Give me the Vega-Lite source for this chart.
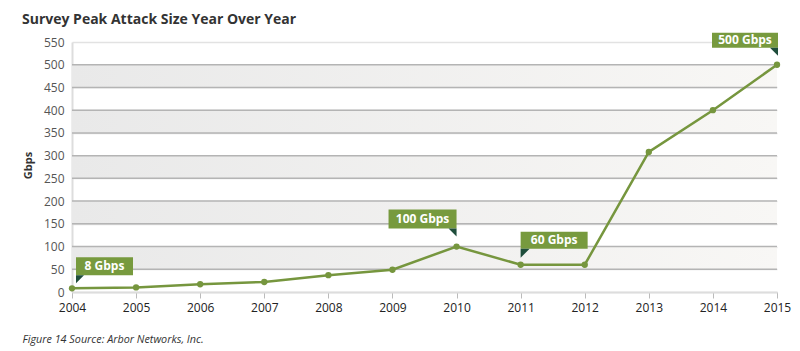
{
  "$schema": "https://vega.github.io/schema/vega-lite/v6.json",
  "autosize": "none",
  "width": 705,
  "height": 250,
  "padding": {"left": 72, "top": 42, "right": 23, "bottom": 59},
  "background": "white",
  "config": {"font": "Open Sans", "view": {"stroke": null}},
  "title": {
    "text": "Survey Peak Attack Size Year Over Year",
    "anchor": "start",
    "frame": "group",
    "dx": -50,
    "font": "Open Sans",
    "fontSize": 14,
    "fontWeight": "bold",
    "color": "#333333",
    "offset": 6
  },
  "datasets": {
    "main": [
      {"year": 2004, "gbps": 8, "label": "8 Gbps"},
      {"year": 2005, "gbps": 10},
      {"year": 2006, "gbps": 17},
      {"year": 2007, "gbps": 22},
      {"year": 2008, "gbps": 37},
      {"year": 2009, "gbps": 49},
      {"year": 2010, "gbps": 100, "label": "100 Gbps"},
      {"year": 2011, "gbps": 60, "label": "60 Gbps"},
      {"year": 2012, "gbps": 60},
      {"year": 2013, "gbps": 308},
      {"year": 2014, "gbps": 400},
      {"year": 2015, "gbps": 500, "label": "500 Gbps"}
    ],
    "bands": [
      {"lo": 50, "hi": 100},
      {"lo": 150, "hi": 200},
      {"lo": 250, "hi": 300},
      {"lo": 350, "hi": 400},
      {"lo": 450, "hi": 500}
    ]
  },
  "data": {"name": "main"},
  "encoding": {
    "x": {"field": "year", "type": "quantitative",
      "scale": {"domain": [2004, 2015], "nice": false, "zero": false},
      "axis": {
        "values": [2004, 2005, 2006, 2007, 2008, 2009, 2010, 2011, 2012, 2013, 2014, 2015],
        "format": "d",
        "labelFlush": false,
        "labelOverlap": false,
        "labelFont": "Open Sans",
        "labelFontSize": 12,
        "labelColor": "#222222",
        "labelPadding": 4,
        "tickColor": "#bbbbbb",
        "tickSize": 6,
        "tickWidth": 1,
        "domainColor": "#dddddd",
        "domainWidth": 2,
        "grid": false,
        "title": "Figure 14 Source: Arbor Networks, Inc.",
        "titleFont": "Open Sans",
        "titleFontSize": 10.8,
        "titleFontWeight": "normal",
        "titleFontStyle": "italic",
        "titleColor": "#333333",
        "titleAnchor": "start",
        "titleAlign": "left",
        "titleBaseline": "alphabetic",
        "titleX": -50,
        "titleY": 50
      }
    },
    "y": {"field": "gbps", "type": "quantitative",
      "scale": {"domain": [0, 550], "nice": false},
      "axis": {
        "values": [0, 50, 100, 150, 200, 250, 300, 350, 400, 450, 500, 550],
        "labelOverlap": false,
        "title": "Gbps",
        "titleFont": "Open Sans",
        "titleFontSize": 11,
        "titleFontWeight": "bold",
        "titleColor": "#333333",
        "titleAngle": -90,
        "titleX": -44,
        "titleY": 123,
        "titleAlign": "center",
        "titleBaseline": "middle",
        "labelFont": "Open Sans",
        "labelFontSize": 12,
        "labelColor": "#555555",
        "labelPadding": 8,
        "ticks": false,
        "domain": true,
        "domainColor": "#dddddd",
        "domainWidth": 2,
        "grid": true,
        "gridWidth": 1.5,
        "gridColor": "#e2e2e2"
      }
    }
  },
  "layer": [
    {
      "data": {"name": "bands"},
      "mark": {
        "type": "rect",
        "fill": {"gradient": "linear", "x1": 0, "x2": 1, "y1": 0, "y2": 0,
          "stops": [{"offset": 0, "color": "#e9e9e9"}, {"offset": 1, "color": "#f8f7f5"}]}
      },
      "encoding": {
        "x": null,
        "y": {"field": "lo", "type": "quantitative",
          "scale": {"domain": [0, 550], "nice": false},
          "axis": {
            "values": [0, 50, 100, 150, 200, 250, 300, 350, 400, 450, 500, 550],
            "labelOverlap": false,
            "title": "Gbps",
            "titleFont": "Open Sans",
            "titleFontSize": 11,
            "titleFontWeight": "bold",
            "titleColor": "#333333",
            "titleAngle": -90,
            "titleX": -44,
            "titleY": 123,
            "titleAlign": "center",
            "titleBaseline": "middle",
            "labelFont": "Open Sans",
            "labelFontSize": 12,
            "labelColor": "#555555",
            "labelPadding": 8,
            "ticks": false,
            "domain": true,
            "domainColor": "#dddddd",
            "domainWidth": 2,
            "grid": true,
            "gridWidth": 1.5,
            "gridColor": "#e2e2e2"
          }
        },
        "y2": {"field": "hi"}
      }
    },
    {
      "data": {"name": "bands"},
      "mark": {"type": "rule", "color": "#b4b4b4", "strokeWidth": 1.5},
      "encoding": {
        "x": null,
        "y": {"field": "lo", "type": "quantitative",
          "scale": {"domain": [0, 550], "nice": false},
          "axis": {
            "values": [0, 50, 100, 150, 200, 250, 300, 350, 400, 450, 500, 550],
            "labelOverlap": false,
            "title": "Gbps",
            "titleFont": "Open Sans",
            "titleFontSize": 11,
            "titleFontWeight": "bold",
            "titleColor": "#333333",
            "titleAngle": -90,
            "titleX": -44,
            "titleY": 123,
            "titleAlign": "center",
            "titleBaseline": "middle",
            "labelFont": "Open Sans",
            "labelFontSize": 12,
            "labelColor": "#555555",
            "labelPadding": 8,
            "ticks": false,
            "domain": true,
            "domainColor": "#dddddd",
            "domainWidth": 2,
            "grid": true,
            "gridWidth": 1.5,
            "gridColor": "#e2e2e2"
          }
        }
      }
    },
    {
      "data": {"name": "bands"},
      "mark": {"type": "rule", "color": "#b4b4b4", "strokeWidth": 1.5},
      "encoding": {
        "x": null,
        "y": {"field": "hi", "type": "quantitative",
          "scale": {"domain": [0, 550], "nice": false},
          "axis": {
            "values": [0, 50, 100, 150, 200, 250, 300, 350, 400, 450, 500, 550],
            "labelOverlap": false,
            "title": "Gbps",
            "titleFont": "Open Sans",
            "titleFontSize": 11,
            "titleFontWeight": "bold",
            "titleColor": "#333333",
            "titleAngle": -90,
            "titleX": -44,
            "titleY": 123,
            "titleAlign": "center",
            "titleBaseline": "middle",
            "labelFont": "Open Sans",
            "labelFontSize": 12,
            "labelColor": "#555555",
            "labelPadding": 8,
            "ticks": false,
            "domain": true,
            "domainColor": "#dddddd",
            "domainWidth": 2,
            "grid": true,
            "gridWidth": 1.5,
            "gridColor": "#e2e2e2"
          }
        }
      }
    },
    {
      "mark": {"type": "line", "color": "#76963e", "strokeWidth": 2.5}
    },
    {
      "mark": {"type": "circle", "color": "#76963e", "size": 40, "opacity": 1}
    },
    {
      "transform": [{"filter": "datum.year == 2004"}],
      "mark": {"type": "point", "shape": "M4,-31H61V-13H4Z", "size": 4, "filled": true, "color": "#779a3e", "opacity": 1, "strokeWidth": 0}
    },
    {
      "transform": [{"filter": "datum.year == 2004"}],
      "mark": {"type": "point", "shape": "M4,-13H12L4,-5Z", "size": 4, "filled": true, "color": "#1e4d3b", "opacity": 1, "strokeWidth": 0}
    },
    {
      "transform": [{"filter": "datum.year == 2004"}],
      "mark": {"type": "text", "dx": 32.5, "dy": -22, "align": "center", "baseline": "middle", "font": "Open Sans", "fontSize": 12, "fontWeight": "bold", "color": "white"},
      "encoding": {"text": {"field": "label"}}
    },
    {
      "transform": [{"filter": "datum.year == 2011"}],
      "mark": {"type": "point", "shape": "M0,-33H67V-16H0Z", "size": 4, "filled": true, "color": "#779a3e", "opacity": 1, "strokeWidth": 0}
    },
    {
      "transform": [{"filter": "datum.year == 2011"}],
      "mark": {"type": "point", "shape": "M0,-16H9L0,-7Z", "size": 4, "filled": true, "color": "#1e4d3b", "opacity": 1, "strokeWidth": 0}
    },
    {
      "transform": [{"filter": "datum.year == 2011"}],
      "mark": {"type": "text", "dx": 33.5, "dy": -24.5, "align": "center", "baseline": "middle", "font": "Open Sans", "fontSize": 12, "fontWeight": "bold", "color": "white"},
      "encoding": {"text": {"field": "label"}}
    },
    {
      "transform": [{"filter": "datum.year == 2010"}],
      "mark": {"type": "point", "shape": "M-68,-37H0V-18H-68Z", "size": 4, "filled": true, "color": "#779a3e", "opacity": 1, "strokeWidth": 0}
    },
    {
      "transform": [{"filter": "datum.year == 2010"}],
      "mark": {"type": "point", "shape": "M-8,-18H0V-10Z", "size": 4, "filled": true, "color": "#1e4d3b", "opacity": 1, "strokeWidth": 0}
    },
    {
      "transform": [{"filter": "datum.year == 2010"}],
      "mark": {"type": "text", "dx": -34, "dy": -27.5, "align": "center", "baseline": "middle", "font": "Open Sans", "fontSize": 12, "fontWeight": "bold", "color": "white"},
      "encoding": {"text": {"field": "label"}}
    },
    {
      "transform": [{"filter": "datum.year == 2015"}],
      "mark": {"type": "point", "shape": "M-65,-32H1V-17H-65Z", "size": 4, "filled": true, "color": "#779a3e", "opacity": 1, "strokeWidth": 0}
    },
    {
      "transform": [{"filter": "datum.year == 2015"}],
      "mark": {"type": "point", "shape": "M-7,-17H1V-9Z", "size": 4, "filled": true, "color": "#1e4d3b", "opacity": 1, "strokeWidth": 0}
    },
    {
      "transform": [{"filter": "datum.year == 2015"}],
      "mark": {"type": "text", "dx": -32, "dy": -24.5, "align": "center", "baseline": "middle", "font": "Open Sans", "fontSize": 12, "fontWeight": "bold", "color": "white"},
      "encoding": {"text": {"field": "label"}}
    }
  ]
}
